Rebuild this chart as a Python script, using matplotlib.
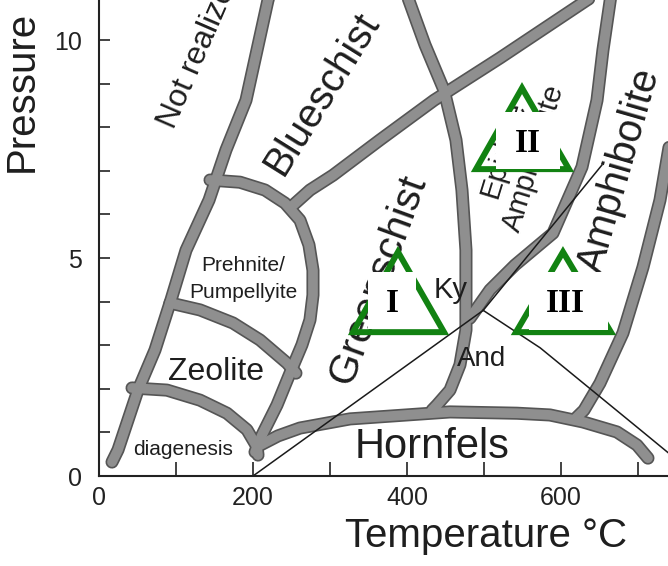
import matplotlib
matplotlib.use("Agg")
import matplotlib.pyplot as plt
from matplotlib.patches import Polygon, Rectangle

plt.rcParams['font.family'] = ['Liberation Sans', 'DejaVu Sans']

# ---------------- axes ----------------
T_MAX = 739
P_MAX = 10.92
x_ticks = [0, 100, 200, 300, 400, 500, 600, 700]
x_ticklabels = ['0', '', '200', '', '400', '', '600', '']
y_ticks = [0, 1, 2, 3, 4, 5, 6, 7, 8, 9, 10]
y_ticklabels = ['0', '', '', '', '', '5', '', '', '', '', '10']

# ---------------- facies boundaries (T in °C, P in kbar) ----------------
not_realized_T = [224.7, 219.5, 190.9, 164.9, 142.9, 113.0, 93.5, 72.7, 50.6, 24.7, 16.9]
not_realized_P = [11.15, 10.92, 8.62, 7.48, 6.33, 5.18, 4.04, 2.89, 1.97, 0.60, 0.32]

prehnite_T = [144.2, 183.1, 215.6, 241.6, 261.0, 272.7, 277.9, 277.9, 274.0, 263.6, 248.1, 231.2, 211.7, 202.6]
prehnite_P = [6.79, 6.74, 6.56, 6.26, 5.87, 5.30, 4.72, 4.15, 3.58, 3.01, 2.36, 1.63, 0.94, 0.55]

blueschist_T = [250.6, 274.0, 303.9, 364.9, 435.1, 520.8, 633.8, 650.6]
blueschist_P = [6.19, 6.56, 6.90, 7.71, 8.62, 9.59, 10.92, 11.10]

zeolite_T = [92.2, 131.2, 174.0, 209.1, 244.2, 255.8]
zeolite_P = [3.97, 3.81, 3.51, 3.12, 2.59, 2.36]

diagenesis_T = [42.9, 88.3, 131.2, 166.2, 192.2, 205.2, 206.5]
diagenesis_P = [2.02, 1.97, 1.74, 1.44, 1.06, 0.67, 0.48]

hornfels_T = [205.2, 232.5, 261.0, 326.0, 455.8, 542.9, 585.7, 628.6, 672.7, 698.7, 713.0]
hornfels_P = [0.67, 0.92, 1.10, 1.31, 1.47, 1.44, 1.40, 1.24, 1.01, 0.71, 0.41]

greenschist_T = [400.0, 423.4, 448.1, 463.6, 471.4, 476.6, 476.6, 468.8, 455.8, 439.0, 432.5]
greenschist_P = [11.03, 9.89, 8.85, 7.71, 6.56, 5.18, 3.35, 2.55, 1.97, 1.63, 1.51]

epidote_T = [664.9, 654.5, 646.8, 627.3, 589.6, 540.3, 507.8, 481.8]
epidote_P = [11.03, 9.77, 8.62, 7.09, 5.57, 4.84, 4.27, 3.62]

granulite_T = [744.2, 728.6, 706.5, 680.5, 650.6, 629.9, 619.5]
granulite_P = [7.94, 6.33, 4.79, 3.28, 2.13, 1.51, 1.33]

thick_curves = [
    (not_realized_T, not_realized_P),
    (prehnite_T, prehnite_P),
    (blueschist_T, blueschist_P),
    (zeolite_T, zeolite_P),
    (diagenesis_T, diagenesis_P),
    (hornfels_T, hornfels_P),
    (greenschist_T, greenschist_P),
    (epidote_T, epidote_P),
    (granulite_T, granulite_P),
]

# ---------------- Al2SiO5 reactions (thin lines) ----------------
and_ky_T = [200, 499]
and_ky_P = [0.0, 3.8]
ky_sil_T = [499, 653]
ky_sil_P = [3.8, 7.13]
and_sil_T = [499, 573, 703, 745]
and_sil_P = [3.8, 2.94, 1.06, 0.45]

# ---------------- green triangles with roman labels ----------------
tri_labels = ['I', 'II', 'III']
tri_left_T = [329.9, 489.6, 541.6]
tri_right_T = [448.1, 610.4, 664.9]
tri_base_P = [3.30, 7.04, 3.30]
tri_apex_T = [388.3, 549.4, 602.6]
tri_apex_P = [5.14, 8.90, 5.14]
box_T0 = [349.4, 515.6, 558.4]
box_T1 = [411.7, 598.7, 661.0]
box_P0 = [3.37, 7.04, 3.35]
box_P1 = [4.68, 8.35, 4.68]
lab_T = [380.5, 557.1, 605.2]
lab_P = [3.76, 7.43, 3.76]

# ---------------- figure ----------------
W, H = 668, 566
fig = plt.figure(figsize=(W / 100, H / 100), dpi=100)
ax = fig.add_axes([99 / W, 90 / H, 569 / W, 476 / H])
ax.set_xlim(0, T_MAX)
ax.set_ylim(0, P_MAX)

for s in ['top', 'right']:
    ax.spines[s].set_visible(False)
for s in ['left', 'bottom']:
    ax.spines[s].set_linewidth(1.5)
    ax.spines[s].set_color('#222222')

ax.set_xticks(x_ticks)
ax.set_xticklabels(x_ticklabels)
ax.set_yticks(y_ticks)
ax.set_yticklabels(y_ticklabels)
ax.tick_params(axis='x', direction='in', length=10, width=1.2, pad=7,
               labelsize=18, color='#222222', labelcolor='#222222')
ax.tick_params(axis='y', direction='in', length=8, width=1.2, pad=12,
               labelsize=18, color='#222222', labelcolor='#222222')

# thick grey boundaries: dark rim first, then lighter core
for T, P in thick_curves:
    ax.plot(T, P, color='#555555', lw=9.4, solid_capstyle='round',
            solid_joinstyle='round', zorder=2)
for T, P in thick_curves:
    ax.plot(T, P, color='#8f8f8f', lw=7.0, solid_capstyle='round',
            solid_joinstyle='round', zorder=2.1)

# thin reaction lines
for T, P in [(and_ky_T, and_ky_P), (ky_sil_T, ky_sil_P), (and_sil_T, and_sil_P)]:
    ax.plot(T, P, color='#1a1a1a', lw=1.1, zorder=2.5)

# facies labels
tc = '#1e1e1e'
ax.text(97.4, 7.94, 'Not realized', rotation=66.5, rotation_mode='anchor',
        ha='left', va='baseline', fontsize=23, color=tc, zorder=3)
ax.text(290.0, 8.78, 'Blueschist', rotation=58, rotation_mode='anchor',
        ha='center', va='center', fontsize=29, color=tc, zorder=3)
ax.text(362.3, 4.52, 'Greenschist', rotation=70, rotation_mode='anchor',
        ha='center', va='center', fontsize=29.5, color=tc, zorder=3)
ax.text(676.5, 7.02, 'Amphibolite', rotation=74, rotation_mode='anchor',
        ha='center', va='center', fontsize=29, color=tc, zorder=3)
ax.text(545.5, 7.39, 'Epidote\nAmphibolite', rotation=73, rotation_mode='anchor',
        ha='center', va='center', multialignment='center', linespacing=1.15,
        fontsize=21, color=tc, zorder=3)
ax.text(187.0, 4.70, 'Prehnite/', ha='center', va='baseline', fontsize=15,
        color=tc, zorder=3)
ax.text(187.0, 4.08, 'Pumpellyite', ha='center', va='baseline', fontsize=15,
        color=tc, zorder=3)
ax.text(152.0, 2.20, 'Zeolite', ha='center', va='baseline', fontsize=23,
        color=tc, zorder=3)
ax.text(109.0, 0.48, 'diagenesis', ha='center', va='baseline', fontsize=15,
        color=tc, zorder=3)
ax.text(432.5, 0.41, 'Hornfels', ha='center', va='baseline', fontsize=30,
        color=tc, zorder=3)
ax.text(457.0, 4.08, 'Ky', ha='center', va='baseline', fontsize=21,
        color=tc, zorder=3)
ax.text(497.4, 2.52, 'And', ha='center', va='baseline', fontsize=20,
        color=tc, zorder=3)

# triangles, white boxes, roman numerals
green = '#128212'
for i, lab in enumerate(tri_labels):
    tri = Polygon([(tri_left_T[i], tri_base_P[i]), (tri_right_T[i], tri_base_P[i]),
                   (tri_apex_T[i], tri_apex_P[i])], closed=True, fill=False,
                  edgecolor=green, lw=4.3, joinstyle='miter', zorder=4)
    ax.add_patch(tri)
    ax.add_patch(Rectangle((box_T0[i], box_P0[i]), box_T1[i] - box_T0[i],
                           box_P1[i] - box_P0[i], facecolor='white',
                           edgecolor='none', zorder=5))
    ax.text(lab_T[i], lab_P[i], lab, ha='center', va='baseline', fontsize=24,
            fontweight='bold', family=['Liberation Serif', 'DejaVu Serif'],
            color='black', zorder=6)

# axis titles
fig.text(22 / W, 1 - 91 / H, 'Pressure', rotation=90, ha='center', va='center',
         fontsize=29, color=tc)
fig.text(486 / W, 1 - 547 / H, 'Temperature °C', ha='center', va='baseline',
         fontsize=29, color=tc)

fig.savefig('out.png', dpi=100)
